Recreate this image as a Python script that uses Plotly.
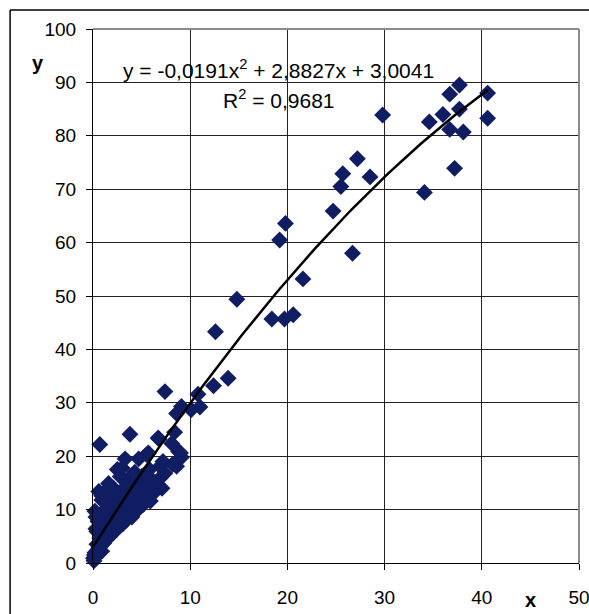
import numpy as np
import plotly.graph_objects as go

# ---- data ----
x_upper = [37.7, 36.7, 40.6, 37.7, 36.0, 34.6, 40.6, 36.7, 38.1, 29.8, 27.2, 25.7, 25.5, 28.5, 37.2, 34.1, 24.7, 26.7,
           19.8, 19.2, 21.6, 14.8, 12.6, 18.4, 19.7, 20.6]
y_upper = [89.5, 87.8, 88.0, 85.0, 84.0, 82.6, 83.3, 81.2, 80.7, 83.9, 75.7, 72.9, 70.5, 72.3, 73.9, 69.4, 65.9, 58.0,
           63.6, 60.5, 53.2, 49.4, 43.3, 45.7, 45.7, 46.5]
x_mid = [13.9, 12.4, 7.4, 10.8, 10.1, 11.0, 9.1, 8.6, 8.4, 6.7, 3.8, 0.7, 8.1, 8.8, 3.3, 4.7, 5.7, 6.8]
y_mid = [34.6, 33.2, 32.1, 31.6, 28.7, 29.2, 29.3, 28.0, 24.5, 23.4, 24.1, 22.2, 22.4, 20.9, 19.5, 19.5, 20.6, 23.2]
x_low = [0.05, 0.2, 0.3, 0.5, 0.6, 0.4, 0.7, 1.1, 0.9, 1.2, 0.4, 0.3, 1.4, 1.7, 1.5, 2.1, 2.4, 2.0, 2.8, 3.1,
         2.6, 3.3, 4.0, 3.8, 4.5, 2.1, 3.1, 3.5, 5.2, 5.9, 4.2, 4.9, 0.2, 0.9, 0.6, 1.4, 2.1, 0.9, 1.0, 5.5,
         6.2, 6.2, 7.1, 6.6, 3.8, 4.5, 2.8, 2.5, 5.5, 4.3, 5.0, 5.8, 6.9, 7.2, 8.6, 8.2, 9.1, 9.0, 1.8, 1.3,
         2.3, 3.6, 4.1, 2.9, 3.3, 1.6, 4.0, 5.3, 0.1, 0.15, 0.8, 1.0, 1.9, 2.7, 3.4, 4.6, 5.6, 6.3, 6.9, 7.4,
         0.5, 1.2, 2.2, 3.0, 0.3, 1.6]
y_low = [0.9, 1.9, 1.2, 2.5, 2.8, 3.5, 4.7, 3.7, 2.2, 4.4, 5.9, 6.4, 6.1, 4.9, 5.5, 6.9, 6.2, 7.6, 8.1, 7.4,
         8.8, 9.0, 8.6, 9.4, 9.8, 10.6, 11.2, 10.3, 11.0, 11.6, 11.8, 12.2, 9.7, 11.8, 13.4, 13.1, 14.0, 12.6, 13.0, 13.4,
         14.8, 15.3, 14.0, 14.5, 15.0, 14.2, 16.2, 17.5, 20.3, 17.0, 16.2, 17.5, 18.1, 19.0, 18.1, 18.5, 19.8, 20.6, 8.5, 7.3,
         9.3, 12.4, 13.5, 12.9, 14.2, 11.2, 16.4, 15.1, 0.4, 1.5, 3.2, 5.2, 5.6, 7.0, 8.0, 10.6, 12.6, 13.2, 15.9, 16.8,
         7.8, 9.9, 12.0, 17.8, 8.6, 14.9]

x_vals = x_upper + x_mid + x_low
y_vals = y_upper + y_mid + y_low

# trendline coefficients (from the chart's equation)
coef_a, coef_b, coef_c = -0.0191, 2.8827, 3.0041
x_ticks = [0, 10, 20, 30, 40, 50]
y_ticks = [0, 10, 20, 30, 40, 50, 60, 70, 80, 90, 100]

xt = np.linspace(min(x_vals), max(x_vals), 120)
yt = coef_a * xt**2 + coef_b * xt + coef_c

FONT = "Liberation Sans, Arial, sans-serif"
NAVY = "#111d63"

fig = go.Figure()
fig.add_trace(go.Scatter(x=x_vals, y=y_vals, mode="markers",
                         marker=dict(symbol="diamond", size=13, color=NAVY, line=dict(width=0)),
                         hoverinfo="x+y", showlegend=False, cliponaxis=False))
fig.add_trace(go.Scatter(x=xt, y=yt, mode="lines", line=dict(color="black", width=2.5),
                         hoverinfo="skip", showlegend=False))

axis_common = dict(showgrid=True, gridcolor="#222222", gridwidth=1, zeroline=False,
                   showline=True, linecolor="black", linewidth=1.2,
                   ticks="outside", ticklen=6, tickcolor="black", tickwidth=1,
                   ticklabeloverflow="allow", automargin=False,
                   tickfont=dict(family=FONT, size=19, color="black"))

fig.update_xaxes(range=[0, 50], tickvals=x_ticks, ticklabelstandoff=11, **axis_common)
fig.update_yaxes(range=[0, 100], tickvals=y_ticks, ticklabelstandoff=6, **axis_common)

fig.update_layout(
    width=589, height=614,
    margin=dict(l=93, r=10, t=29, b=51, autoexpand=False),
    plot_bgcolor="white", paper_bgcolor="white",
    font=dict(family=FONT, color="black"),
    shapes=[
        # plot-area border (top & right gray)
        dict(type="line", xref="paper", yref="paper", x0=0, x1=1, y0=1, y1=1,
             line=dict(color="#8a8a8a", width=2), layer="above"),
        dict(type="line", xref="paper", yref="paper", x0=1, x1=1, y0=0, y1=1,
             line=dict(color="#8a8a8a", width=2), layer="above"),
        # chart frame
        dict(type="line", xref="paper", yref="paper", x0=-0.1706, x1=1.1, y0=1.0356, y1=1.0356,
             line=dict(color="black", width=1.5)),
        dict(type="line", xref="paper", yref="paper", x0=-0.1706, x1=-0.1706, y0=-0.15, y1=1.0356,
             line=dict(color="black", width=1.5)),
    ],
    annotations=[
        dict(text="y = -0,0191x<sup>2</sup> + 2,8827x + 3,0041", xref="paper", yref="paper",
             x=0.382, y=0.925, xanchor="center", yanchor="middle", showarrow=False,
             font=dict(family=FONT, size=21, color="black")),
        dict(text="R<sup>2</sup> = 0,9681", xref="paper", yref="paper",
             x=0.382, y=0.869, xanchor="center", yanchor="middle", showarrow=False,
             font=dict(family=FONT, size=21, color="black")),
        dict(text="<b>y</b>", xref="paper", yref="paper", x=-0.113, y=0.936,
             xanchor="center", yanchor="middle", showarrow=False,
             font=dict(family=FONT, size=20, color="black")),
        dict(text="<b>x</b>", xref="paper", yref="paper", x=0.900, y=-0.0687,
             xanchor="center", yanchor="middle", showarrow=False,
             font=dict(family=FONT, size=20, color="black")),
    ],
)

fig.write_html("out.html")
